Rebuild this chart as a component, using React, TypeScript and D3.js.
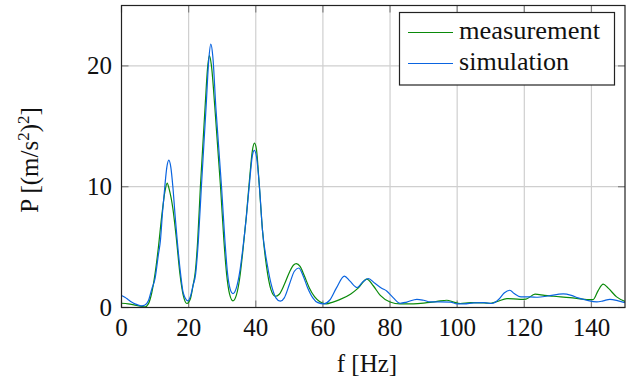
import React from "react";
import * as d3 from "d3";

// measurement series (f in Hz, P in (m/s^2)^2)
const measF = [0, 2, 4, 6, 7, 8, 9, 10, 11, 12, 13, 13.6, 14.2, 15.3, 16.4, 17.4, 18.4, 19.5, 20.5, 21.3, 22, 22.7, 23.5, 24.9, 25.7, 26.2, 26.8, 27.8, 29.5, 30.5, 31.3, 32.2, 33.2, 34.2, 35.2, 36.2, 37.2, 38.2, 39, 39.6, 40.2, 41, 42, 43.2, 44.5, 45.8, 47, 48.5, 50, 51.2, 52.1, 53.2, 54.5, 56, 57.5, 59, 61, 63, 65, 68.2, 70.5, 73.1, 75, 77.1, 80, 83, 87, 91, 94, 96.9, 99, 100.9, 104, 108, 110, 112, 114.8, 118.8, 120.5, 123.2, 126, 128.7, 133.6, 138.6, 140.5, 142, 143.5, 145, 147.5, 150];
const measP = [0.35, 0.3, 0.2, 0.1, 0.05, 0.3, 1.2, 2.8, 5.0, 7.6, 9.7, 10.3, 9.8, 8.2, 5.56, 2.8, 1.0, 0.33, 0.7, 1.8, 3.0, 5.56, 10, 16.6, 20, 20.85, 20, 16.6, 10, 5.56, 2.8, 1.1, 0.55, 1.0, 2.4, 4.8, 7.6, 10.8, 13.0, 13.6, 13.1, 10.3, 6.4, 3.4, 1.5, 0.93, 1.1, 1.9, 2.9, 3.5, 3.64, 3.4, 2.6, 1.6, 0.9, 0.5, 0.3, 0.45, 0.65, 1.1, 1.6, 2.35, 1.8, 1.0, 0.46, 0.3, 0.3, 0.4, 0.5, 0.6, 0.45, 0.33, 0.4, 0.38, 0.35, 0.5, 0.74, 0.68, 0.7, 1.1, 1.0, 0.93, 0.82, 0.66, 0.65, 1.4, 1.93, 1.6, 0.88, 0.5];

// simulation series
const simF = [0, 1, 2, 3, 4, 5, 6, 7, 8, 9, 10, 11, 11.6, 12.2, 12.9, 13.5, 14.1, 14.7, 15.3, 16, 16.6, 17.6, 18.4, 19.8, 20.5, 21.3, 22.1, 22.9, 23.8, 25.2, 26, 26.6, 27.2, 28.1, 29.8, 30.8, 31.6, 32.4, 33.2, 34.2, 35.2, 36.2, 37.2, 38.2, 39, 39.6, 40.2, 41.1, 42, 43.4, 44.8, 46, 47.3, 48.5, 50, 51.5, 52.8, 54, 55.5, 57, 58.5, 60.3, 62, 64, 66.4, 68, 70.2, 71.8, 73.5, 75.5, 77.5, 79, 81, 83, 85, 88, 90, 92, 95, 98, 100, 102, 105, 108, 110.3, 112.5, 114, 115.7, 117, 119, 121.7, 124, 127, 131.6, 134, 136, 138.6, 141.6, 143.5, 145.5, 148, 150];
const simP = [1.0, 0.85, 0.65, 0.45, 0.3, 0.2, 0.13, 0.2, 0.55, 1.5, 2.4, 4.4, 5.56, 7.8, 10, 11.6, 12.2, 11.6, 10, 7.5, 5.56, 2.8, 1.2, 0.55, 0.9, 1.8, 2.8, 5.56, 10, 16.6, 20.5, 21.8, 20.8, 16.6, 10, 5.56, 2.8, 1.5, 1.15, 1.6, 2.9, 5.0, 7.5, 10.5, 12.6, 13.0, 12.5, 10, 6.4, 3.6, 1.7, 0.8, 0.52, 0.8, 1.9, 3.0, 3.27, 2.7, 1.6, 0.8, 0.4, 0.3, 0.6, 1.6, 2.6, 2.2, 1.65, 2.1, 2.4, 2.0, 1.6, 1.37, 0.8, 0.35, 0.45, 0.68, 0.6, 0.46, 0.46, 0.45, 0.3, 0.3, 0.38, 0.4, 0.33, 0.7, 1.2, 1.43, 1.15, 0.88, 0.88, 0.85, 0.95, 1.12, 1.0, 0.8, 0.6, 0.46, 0.55, 0.68, 0.55, 0.4];

const xTicks = [0, 20, 40, 60, 80, 100, 120, 140];
const yTicks = [0, 10, 20];
const seriesNames = ["measurement", "simulation"];
const seriesColors = ["#0a8a0a", "#0a64e0"];

const W = 633;
const H = 384;
const L = 121.5;
const R = 625;
const T = 5.5;
const B = 307.5;
const FONT = '"Liberation Serif", "Times New Roman", serif';

export default function App() {
  const x = d3.scaleLinear().domain([0, 150]).range([L, R]);
  const y = d3.scaleLinear().domain([0, 25]).range([B, T]);
  const line = d3
    .line<[number, number]>()
    .x((d) => x(d[0]))
    .y((d) => y(d[1]))
    .curve(d3.curveMonotoneX);

  const meas: [number, number][] = measF.map((f, i) => [f, measP[i]]);
  const sim: [number, number][] = simF.map((f, i) => [f, simP[i]]);
  const grid = "#cfcfcf";
  const tickC = "#808080";
  const tl = 7;
  const ts = { fontFamily: FONT };

  return (
    <svg
      width={W}
      height={H}
      style={{ position: "absolute", left: 0, top: 0, background: "#fff", fontFamily: FONT }}
    >
      <defs>
        <clipPath id="plotclip">
          <rect x={L} y={T} width={R - L} height={B - T} />
        </clipPath>
      </defs>
      {xTicks
        .filter((t) => t > 0)
        .map((t) => (
          <line key={"gx" + t} x1={x(t)} x2={x(t)} y1={T} y2={B} stroke={grid} strokeWidth={1.2} />
        ))}
      {yTicks
        .filter((t) => t > 0)
        .map((t) => (
          <line key={"gy" + t} x1={L} x2={R} y1={y(t)} y2={y(t)} stroke={grid} strokeWidth={1.2} />
        ))}
      {xTicks.map((t) => (
        <g key={"tx" + t}>
          <line x1={x(t)} x2={x(t)} y1={B} y2={B - tl} stroke={tickC} strokeWidth={1.2} />
          <line x1={x(t)} x2={x(t)} y1={T} y2={T + tl} stroke={tickC} strokeWidth={1.2} />
        </g>
      ))}
      {yTicks.map((t) => (
        <g key={"ty" + t}>
          <line x1={L} x2={L + tl} y1={y(t)} y2={y(t)} stroke={tickC} strokeWidth={1.2} />
          <line x1={R} x2={R - tl} y1={y(t)} y2={y(t)} stroke={tickC} strokeWidth={1.2} />
        </g>
      ))}
      <g clipPath="url(#plotclip)" fill="none" strokeWidth={1.2}>
        <path d={line(meas) || ""} stroke={seriesColors[0]} />
        <path d={line(sim) || ""} stroke={seriesColors[1]} />
      </g>
      <rect x={L} y={T} width={R - L} height={B - T} fill="none" stroke="#222" strokeWidth={1.2} />
      {xTicks.map((t) => (
        <text key={"lx" + t} style={ts} x={x(t)} y={336} textAnchor="middle" fontSize={25} fill="#111">
          {t}
        </text>
      ))}
      {yTicks.map((t) => (
        <text key={"ly" + t} style={ts} x={112} y={y(t) + 8.5} textAnchor="end" fontSize={25} fill="#111">
          {t}
        </text>
      ))}
      <text style={ts} x={367} y={372} textAnchor="middle" fontSize={25} fill="#111">
        f [Hz]
      </text>
      <text style={ts} transform="translate(38,160) rotate(-90)" textAnchor="middle" fontSize={25} fill="#111">
        P [(m/s
        <tspan dy={-9} fontSize={17}>2</tspan>
        <tspan dy={9}>)</tspan>
        <tspan dy={-9} fontSize={17}>2</tspan>
        <tspan dy={9}>]</tspan>
      </text>
      <rect x={399.5} y={12.5} width={215} height={72.5} fill="#fff" stroke="#222" strokeWidth={1.2} />
      {seriesNames.map((n, i) => (
        <g key={n}>
          <line x1={408} x2={453} y1={32.5 + i * 31} y2={32.5 + i * 31} stroke={seriesColors[i]} strokeWidth={1.2} />
          <text
            style={ts}
            x={459}
            y={38.5 + i * 31}
            fontSize={25}
            fill="#111"
            textLength={i === 0 ? 141 : 110}
            lengthAdjust="spacingAndGlyphs"
          >
            {n}
          </text>
        </g>
      ))}
    </svg>
  );
}
